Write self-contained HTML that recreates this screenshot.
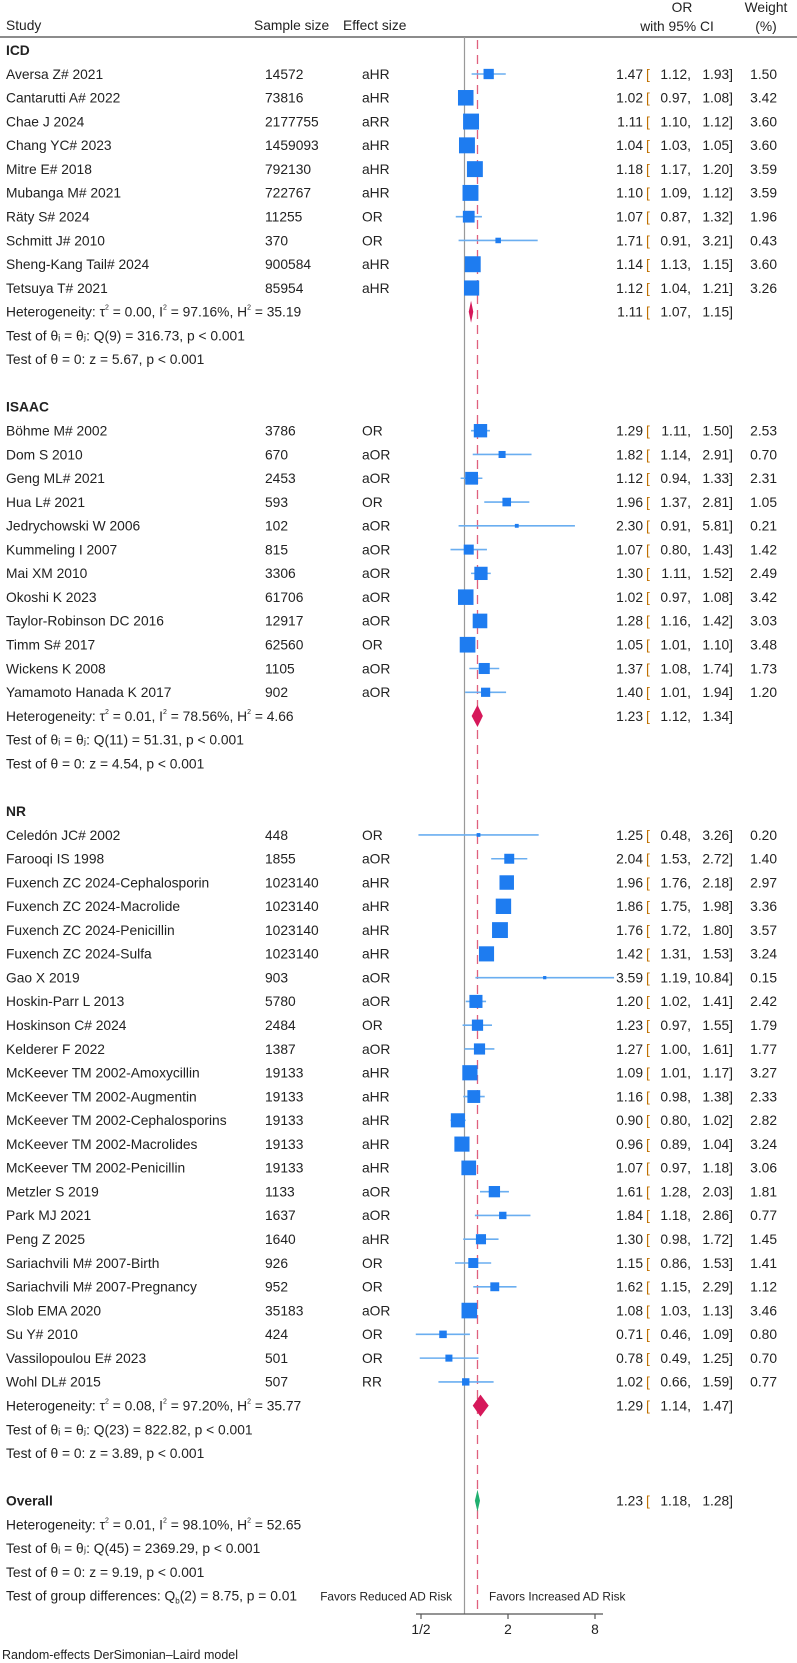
<!DOCTYPE html>
<html><head><meta charset="utf-8"><style>
html,body{margin:0;padding:0;background:#fff;}
svg{display:block;font-family:"Liberation Sans",Arial,sans-serif;}
</style></head><body>
<svg id="plot" width="797" height="1663" viewBox="0 0 797 1663" xmlns="http://www.w3.org/2000/svg">
<g font-size="13.8" fill="#222">
<text x="6" y="30">Study</text>
<text x="254" y="30">Sample size</text>
<text x="343" y="30">Effect size</text>
<text x="682" y="12" text-anchor="middle">OR</text>
<text x="677" y="31" text-anchor="middle">with 95% CI</text>
<text x="766" y="12" text-anchor="middle">Weight</text>
<text x="766" y="31" text-anchor="middle">(%)</text>
</g>
<line x1="0" y1="37" x2="797" y2="37" stroke="#666" stroke-width="1.5"/>
<g id="marks"></g>
<text x="2" y="1659" font-size="12.5" fill="#222">Random-effects DerSimonian–Laird model</text>
</svg>
<script>
const icdNames=["Aversa Z# 2021","Cantarutti A# 2022","Chae J 2024","Chang YC# 2023","Mitre E# 2018","Mubanga M# 2021","Räty S# 2024","Schmitt J# 2010","Sheng-Kang Tail# 2024","Tetsuya T# 2021"];
const icdN=["14572","73816","2177755","1459093","792130","722767","11255","370","900584","85954"];
const icdEff=["aHR","aHR","aRR","aHR","aHR","aHR","OR","OR","aHR","aHR"];
const icdOR=[1.47,1.02,1.11,1.04,1.18,1.10,1.07,1.71,1.14,1.12];
const icdLo=[1.12,0.97,1.10,1.03,1.17,1.09,0.87,0.91,1.13,1.04];
const icdHi=[1.93,1.08,1.12,1.05,1.20,1.12,1.32,3.21,1.15,1.21];
const icdW=[1.50,3.42,3.60,3.60,3.59,3.59,1.96,0.43,3.60,3.26];

const isaacNames=["Böhme M# 2002","Dom S 2010","Geng ML# 2021","Hua L#  2021","Jedrychowski W 2006","Kummeling I 2007","Mai XM 2010","Okoshi K 2023","Taylor-Robinson DC 2016","Timm S# 2017","Wickens K 2008","Yamamoto Hanada K 2017"];
const isaacN=["3786","670","2453","593","102","815","3306","61706","12917","62560","1105","902"];
const isaacEff=["OR","aOR","aOR","OR","aOR","aOR","aOR","aOR","aOR","OR","aOR","aOR"];
const isaacOR=[1.29,1.82,1.12,1.96,2.30,1.07,1.30,1.02,1.28,1.05,1.37,1.40];
const isaacLo=[1.11,1.14,0.94,1.37,0.91,0.80,1.11,0.97,1.16,1.01,1.08,1.01];
const isaacHi=[1.50,2.91,1.33,2.81,5.81,1.43,1.52,1.08,1.42,1.10,1.74,1.94];
const isaacW=[2.53,0.70,2.31,1.05,0.21,1.42,2.49,3.42,3.03,3.48,1.73,1.20];

const nrNames=["Celedón JC# 2002","Farooqi IS 1998","Fuxench ZC 2024-Cephalosporin","Fuxench ZC 2024-Macrolide","Fuxench ZC 2024-Penicillin","Fuxench ZC 2024-Sulfa","Gao X 2019","Hoskin-Parr L 2013","Hoskinson C# 2024","Kelderer F 2022","McKeever TM 2002-Amoxycillin","McKeever TM 2002-Augmentin","McKeever TM 2002-Cephalosporins","McKeever TM 2002-Macrolides","McKeever TM 2002-Penicillin","Metzler S 2019","Park MJ 2021","Peng Z 2025","Sariachvili M# 2007-Birth","Sariachvili M# 2007-Pregnancy","Slob EMA 2020","Su Y# 2010","Vassilopoulou E# 2023","Wohl DL# 2015"];
const nrN=["448","1855","1023140","1023140","1023140","1023140","903","5780","2484","1387","19133","19133","19133","19133","19133","1133","1637","1640","926","952","35183","424","501","507"];
const nrEff=["OR","aOR","aHR","aHR","aHR","aHR","aOR","aOR","OR","aOR","aHR","aHR","aHR","aHR","aHR","aOR","aOR","aHR","OR","OR","aOR","OR","OR","RR"];
const nrOR=[1.25,2.04,1.96,1.86,1.76,1.42,3.59,1.20,1.23,1.27,1.09,1.16,0.90,0.96,1.07,1.61,1.84,1.30,1.15,1.62,1.08,0.71,0.78,1.02];
const nrLo=[0.48,1.53,1.76,1.75,1.72,1.31,1.19,1.02,0.97,1.00,1.01,0.98,0.80,0.89,0.97,1.28,1.18,0.98,0.86,1.15,1.03,0.46,0.49,0.66];
const nrHi=[3.26,2.72,2.18,1.98,1.80,1.53,10.84,1.41,1.55,1.61,1.17,1.38,1.02,1.04,1.18,2.03,2.86,1.72,1.53,2.29,1.13,1.09,1.25,1.59];
const nrW=[0.20,1.40,2.97,3.36,3.57,3.24,0.15,2.42,1.79,1.77,3.27,2.33,2.82,3.24,3.06,1.81,0.77,1.45,1.41,1.12,3.46,0.80,0.70,0.77];

const groupLabels=["ICD","ISAAC","NR"];
const groupOR=[1.11,1.23,1.29];
const groupLo=[1.07,1.12,1.14];
const groupHi=[1.15,1.34,1.47];
const groupTau=["0.00","0.01","0.08"];
const groupI2=["97.16%","78.56%","97.20%"];
const groupH2=["35.19","4.66","35.77"];
const groupQ=["Q(9) = 316.73","Q(11) = 51.31","Q(23) = 822.82"];
const groupZ=["5.67","4.54","3.89"];
const overallOR=[1.23], overallLo=[1.18], overallHi=[1.28];
const overallStats=["0.01","98.10%","52.65","Q(45) = 2369.29","9.19"];
const axisTicks=[0.5,2,8];
const axisTickLabels=["1/2","2","8"];

const NS="http://www.w3.org/2000/svg";
const FS=13.8;
const g=document.getElementById('marks');
const X0=464.5, PX=43.5;
function xs(v){return X0+PX*Math.log2(v);}
function ys(i){return 74+i*23.78;}
function mk(tag,attrs,parent){const e=document.createElementNS(NS,tag);for(const k in attrs)e.setAttribute(k,attrs[k]);(parent||g).appendChild(e);return e;}
function txt(x,y,s,anchor,name,size){const t=mk('text',{x:x,y:y+4.8,'font-size':size||FS,fill:'#222','text-anchor':anchor||'start'});t.textContent=s;


return t;}
function f2(v){return v.toFixed(2);}
function ciText(y,o,l,h,w,name){
 txt(643,y,f2(o),'end',name+'-or');
 const b=txt(646,y,'[','start',name+'-bracket');b.setAttribute('fill','#c07000');
 txt(691,y,f2(l)+',','end',name+'-ci-lower');
 txt(733,y,f2(h)+']','end',name+'-ci-upper');
 if(w!==null) txt(777,y,f2(w),'end',name+'-weight');
}
function hetText(y,tau,i2,h2,name){
 const t=mk('text',{x:6,y:y+4.8,'font-size':FS,fill:'#222'});
 
 
 t.innerHTML='Heterogeneity: τ<tspan font-size="7" dy="-7">2</tspan><tspan dy="7"> = '+tau+', I</tspan><tspan font-size="7" dy="-7">2</tspan><tspan dy="7"> = '+i2+', H</tspan><tspan font-size="7" dy="-7">2</tspan><tspan dy="7"> = '+h2+'</tspan>';
}
function diamond(y,o,l,h,col,name){
 const hh=11;
 const p=mk('polygon',{points:xs(l)+','+y+' '+xs(o)+','+(y-hh)+' '+xs(h)+','+y+' '+xs(o)+','+(y+hh),fill:col});
 
 
}
const nl=mk('line',{x1:xs(1),y1:37,x2:xs(1),y2:1614,stroke:'#999','stroke-width':1.2});


const rl=mk('line',{x1:xs(overallOR[0]),y1:40,x2:xs(overallOR[0]),y2:1614,stroke:'#e0607e','stroke-width':1.3,'stroke-dasharray':'9,6'});



const groups=[[icdNames,icdN,icdEff,icdOR,icdLo,icdHi,icdW],[isaacNames,isaacN,isaacEff,isaacOR,isaacLo,isaacHi,isaacW],[nrNames,nrN,nrEff,nrOR,nrLo,nrHi,nrW]];
let row=-1;
groups.forEach((gr,gi)=>{
 const gy=ys(row);
 const gl=txt(6,gy,groupLabels[gi],'start','group-label-'+groupLabels[gi].toLowerCase());gl.setAttribute('font-weight','bold');
 row++;
 gr[0].forEach((nm,i)=>{
  const y=ys(row);
  txt(6,y,nm,'start','study-name');
  txt(265,y,gr[1][i],'start','sample-size');
  txt(362,y,gr[2][i],'start','effect-size');
  const ln=mk('line',{x1:xs(gr[4][i]),y1:y,x2:xs(gr[5][i]),y2:y,stroke:'#6aaef0','stroke-width':1.6});
  
  
  const s=8.4*Math.sqrt(gr[6][i]);
  const sq=mk('rect',{x:xs(gr[3][i])-s/2,y:y-s/2,width:s,height:s,fill:'#1e7cf0'});
  
  
  ciText(y,gr[3][i],gr[4][i],gr[5][i],gr[6][i],'study');
  row++;
 });
 let y=ys(row);
 hetText(y,groupTau[gi],groupI2[gi],groupH2[gi],'heterogeneity-'+groupLabels[gi].toLowerCase());
 diamond(y,groupOR[gi],groupLo[gi],groupHi[gi],'#d6185a','subgroup-diamond-'+groupLabels[gi].toLowerCase());
 ciText(y,groupOR[gi],groupLo[gi],groupHi[gi],null,'subgroup');
 row++;
 txt(6,ys(row),'Test of θᵢ = θⱼ: '+groupQ[gi]+', p < 0.001','start','q-test');
 row++;
 txt(6,ys(row),'Test of θ = 0: z = '+groupZ[gi]+', p < 0.001','start','z-test');
 row+=2;
});
let oy=ys(row);
const ol=txt(6,oy,'Overall','start','overall-label');ol.setAttribute('font-weight','bold');
diamond(oy,overallOR[0],overallLo[0],overallHi[0],'#20b070','overall-diamond');
ciText(oy,overallOR[0],overallLo[0],overallHi[0],null,'overall');
row++;
hetText(ys(row),overallStats[0],overallStats[1],overallStats[2],'heterogeneity-overall');row++;
txt(6,ys(row),'Test of θᵢ = θⱼ: '+overallStats[3]+', p < 0.001','start','overall-q-test');row++;
txt(6,ys(row),'Test of θ = 0: z = '+overallStats[4]+', p < 0.001','start','overall-z-test');row++;
const gd=mk('text',{x:6,y:ys(row)+4.8,'font-size':FS,fill:'#222'});


gd.innerHTML='Test of group differences: Q<tspan font-size="8" dy="3">b</tspan><tspan dy="-3">(2) = 8.75, p = 0.01</tspan>';
txt(452,ys(row),'Favors Reduced AD Risk','end','favors-reduced-label',11.8);
txt(489,ys(row),'Favors Increased AD Risk','start','favors-increased-label',11.8);
const AY=1614;
const ax=mk('line',{x1:xs(0.5)-5,y1:AY,x2:xs(8)+8,y2:AY,stroke:'#555','stroke-width':1.2});


axisTicks.forEach((v,i)=>{
 const t=mk('line',{x1:xs(v),y1:AY,x2:xs(v),y2:AY+5,stroke:'#555','stroke-width':1.2});
 
 
 txt(xs(v),1629,axisTickLabels[i],'middle','x-tick-label');
});
</script>
</body></html>
